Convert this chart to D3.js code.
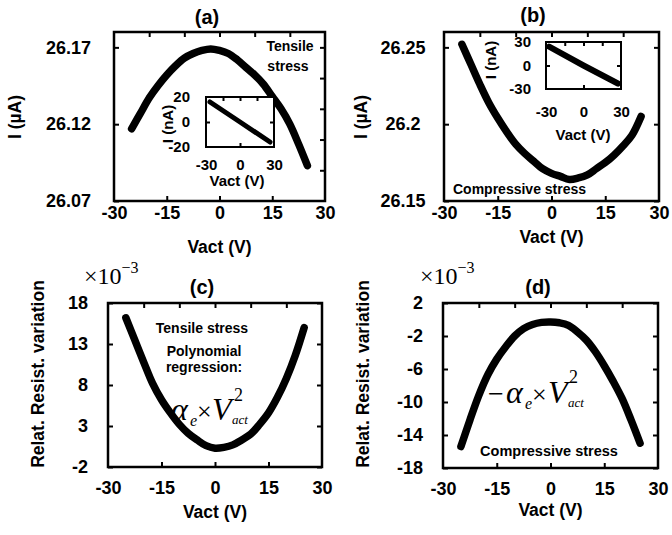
<!DOCTYPE html>
<html>
<head>
<meta charset="utf-8">
<script src="https://cdn.jsdelivr.net/npm/d3@7"></script>
<style>
  html, body { margin: 0; padding: 0; background: #fff; }
  svg { display: block; }
  .sans { font-family: "Liberation Sans", Arial, sans-serif; font-weight: bold; }
  .serif { font-family: "Liberation Serif", "Times New Roman", serif; }
</style>
</head>
<body>
<svg id="chart" width="672" height="535"></svg>
<script>
// ---------------- DATA ----------------
const vact = [-25, -22.5, -20, -17.5, -15, -12.5, -10, -7.5, -5, -2.5, 0, 2.5, 5, 7.5, 10, 12.5, 15, 17.5, 20, 22.5, 25];
// (a) current under tensile stress, µA
const currentTensile = [26.117, 26.127, 26.137, 26.145, 26.152, 26.158, 26.163, 26.166, 26.168, 26.169, 26.168, 26.166, 26.162, 26.157, 26.152, 26.146, 26.138, 26.130, 26.120, 26.107, 26.093];
// (b) current under compressive stress, µA
const currentCompressive = [26.252, 26.239, 26.226, 26.214, 26.204, 26.195, 26.187, 26.181, 26.176, 26.171, 26.168, 26.166, 26.164, 26.165, 26.167, 26.171, 26.175, 26.180, 26.186, 26.193, 26.205];
// (c) relative resistance variation, tensile (x1e-3)
const resistTensile = [16.2, 13.5, 10.8, 8.2, 6.2, 4.6, 3.2, 2.1, 1.3, 0.6, 0.3, 0.4, 0.7, 1.3, 2.0, 3.2, 4.6, 6.5, 8.8, 11.6, 15.0];
// (d) relative resistance variation, compressive (x1e-3)
const resistCompressive = [-15.4, -12.2, -9.2, -6.7, -4.8, -3.3, -2.0, -1.1, -0.6, -0.35, -0.3, -0.4, -0.7, -1.5, -2.5, -3.9, -5.6, -7.5, -9.6, -12.2, -15.0];
// insets: linear I(V) in nA
const insetAV = [-26.5, 0, 26.5];
const insetAI = [16, 0, -16];
const insetBV = [-27.5, 0, 27.5];
const insetBI = [24, 0, -23];

// tick labels
const xTicks = [-30, -15, 0, 15, 30];
const xMinor = [-15, 0, 15];
const xTopTicks = [-20, -10, 0, 10, 20];
const yTicksA = [26.07, 26.12, 26.17];
const yRightA = [26.09, 26.11, 26.13, 26.15, 26.17];
const yTicksB = [26.15, 26.2, 26.25];
const yTicksC = [-2, 3, 8, 13, 18];
const yTicksD = [-18, -14, -10, -6, -2, 2];
const insetXTicks = [-30, 0, 30];
const insetAYTicks = [-20, 0, 20];
const insetBYTicks = [-30, 0, 30];

// --------------- DRAW ---------------
const svg = d3.select("#chart");
const fmt = d => String(d);

function frame(g, x0, y0, x1, y1, sw) {
  g.append("rect").attr("x", x0).attr("y", y0).attr("width", x1 - x0).attr("height", y1 - y0)
    .attr("fill", "none").attr("stroke", "#000").attr("stroke-width", sw);
}

function cleanAxis(sel) {
  sel.select(".domain").remove();
  sel.selectAll(".tick line").attr("stroke", "#000").attr("stroke-width", 2);
}

function panel(cfg) {
  const g = svg.append("g");
  const x = d3.scaleLinear().domain([-30, 30]).range([cfg.x0, cfg.x1]);
  const y = d3.scaleLinear().domain(cfg.yDomain).range([cfg.y1, cfg.y0]);

  // curve
  const line = d3.line().x((d, i) => x(vact[i])).y(d => y(d)).curve(d3.curveCatmullRom);
  g.append("path").datum(cfg.values).attr("d", line)
    .attr("fill", "none").attr("stroke", "#000").attr("stroke-width", 7.5)
    .attr("stroke-linecap", "round").attr("stroke-linejoin", "round");

  // inner ticks
  g.append("g").attr("transform", `translate(0,${cfg.y1})`)
    .call(d3.axisBottom(x).tickValues(xMinor).tickSize(-5).tickFormat("")).call(cleanAxis);
  g.append("g").attr("transform", `translate(0,${cfg.y0})`)
    .call(d3.axisTop(x).tickValues(xTopTicks).tickSize(-5).tickFormat("")).call(cleanAxis);
  g.append("g").attr("transform", `translate(${cfg.x0},0)`)
    .call(d3.axisLeft(y).tickValues(cfg.yTicks).tickSize(-5).tickFormat("")).call(cleanAxis);
  g.append("g").attr("transform", `translate(${cfg.x1},0)`)
    .call(d3.axisRight(y).tickValues(cfg.yRight).tickSize(-5).tickFormat("")).call(cleanAxis);

  // labels
  const xl = g.append("g").attr("transform", `translate(0,${cfg.y1})`)
    .call(d3.axisBottom(x).tickValues(xTicks).tickSize(0).tickPadding(cfg.xPad).tickFormat(fmt));
  xl.select(".domain").remove();
  xl.selectAll("text").attr("class", "sans").attr("font-size", 18).attr("fill", "#000");

  const yl = g.append("g").attr("transform", `translate(${cfg.x0},0)`)
    .call(d3.axisLeft(y).tickValues(cfg.yTicks).tickSize(0).tickPadding(cfg.yPad).tickFormat(fmt));
  yl.select(".domain").remove();
  yl.selectAll("text").attr("class", "sans").attr("font-size", 18).attr("fill", "#000");
  if (cfg.yCenter) yl.selectAll("text").attr("text-anchor", "middle").attr("x", -cfg.yCenter);

  frame(g, cfg.x0, cfg.y0, cfg.x1, cfg.y1, 2.5);

  // titles
  g.append("text").attr("class", "sans").attr("font-size", 20).attr("text-anchor", "middle")
    .attr("x", cfg.tx).attr("y", cfg.ty).text(cfg.title);
  g.append("text").attr("class", "sans").attr("font-size", 17.5).attr("text-anchor", "middle")
    .attr("x", (cfg.x0 + cfg.x1) / 2).attr("y", cfg.xTitleY).text("Vact (V)");
  g.append("text").attr("class", "sans").attr("font-size", 17.5).attr("text-anchor", "middle")
    .attr("transform", `translate(${cfg.yTitleX},${cfg.yTitleY}) rotate(-90)`).attr("dy", "0.35em")
    .text(cfg.yTitle);
  return {g, x, y};
}

function inset(cfg) {
  const g = svg.append("g");
  const x = d3.scaleLinear().domain([-30, 30]).range([cfg.x0, cfg.x1]);
  const y = d3.scaleLinear().domain(cfg.yDomain).range([cfg.y1, cfg.y0]);
  g.append("rect").attr("x", cfg.x0).attr("y", cfg.y0).attr("width", cfg.x1 - cfg.x0)
    .attr("height", cfg.y1 - cfg.y0).attr("fill", "#fff");
  const line = d3.line().x((d, i) => x(cfg.v[i])).y(d => y(d));
  g.append("path").datum(cfg.i).attr("d", line).attr("fill", "none").attr("stroke", "#000")
    .attr("stroke-width", cfg.lw).attr("stroke-linecap", "round");
  g.append("g").attr("transform", `translate(0,${cfg.y1})`)
    .call(d3.axisBottom(x).tickValues([0]).tickSize(-4).tickFormat("")).call(cleanAxis);
  g.append("g").attr("transform", `translate(0,${cfg.y0})`)
    .call(d3.axisTop(x).tickValues([-15, 0, 15]).tickSize(-4).tickFormat("")).call(cleanAxis);
  g.append("g").attr("transform", `translate(${cfg.x0},0)`)
    .call(d3.axisLeft(y).tickValues([0]).tickSize(-4).tickFormat("")).call(cleanAxis);
  g.append("g").attr("transform", `translate(${cfg.x1},0)`)
    .call(d3.axisRight(y).tickValues([0]).tickSize(-4).tickFormat("")).call(cleanAxis);
  frame(g, cfg.x0, cfg.y0, cfg.x1, cfg.y1, 2);

  const xl = g.append("g").attr("transform", `translate(0,${cfg.y1})`)
    .call(d3.axisBottom(x).tickValues(insetXTicks).tickSize(0).tickPadding(cfg.xPad).tickFormat(fmt));
  xl.select(".domain").remove();
  xl.selectAll("text").attr("class", "sans").attr("font-size", cfg.fs).attr("fill", "#000");
  const yl = g.append("g").attr("transform", `translate(${cfg.x0},0)`)
    .call(d3.axisLeft(y).tickValues(cfg.yTicks).tickSize(0).tickPadding(cfg.yPad).tickFormat(fmt));
  yl.select(".domain").remove();
  yl.selectAll("text").attr("class", "sans").attr("font-size", cfg.fs).attr("fill", "#000");

  g.append("text").attr("class", "sans").attr("font-size", cfg.fs).attr("text-anchor", "middle")
    .attr("x", cfg.xtX).attr("y", cfg.xtY).text("Vact (V)");
  g.append("text").attr("class", "sans").attr("font-size", cfg.fs).attr("text-anchor", "middle")
    .attr("transform", `translate(${cfg.ytX},${cfg.ytY}) rotate(-90)`).attr("dy", "0.35em")
    .text("I (nA)");
}

function sansText(x, y, s, size, anchor) {
  svg.append("text").attr("class", "sans").attr("font-size", size)
    .attr("text-anchor", anchor || "middle").attr("x", x).attr("y", y).text(s);
}
function serifText(x, y, s, size, italic) {
  svg.append("text").attr("class", "serif").attr("font-size", size)
    .attr("font-style", italic ? "italic" : "normal").attr("x", x).attr("y", y).text(s);
}
function scaleLabel(x, y) {
  const t = svg.append("text").attr("class", "serif").attr("x", x).attr("y", y);
  t.append("tspan").attr("font-size", 24).text("×10");
  t.append("tspan").attr("font-size", 16).attr("dy", -11).text("−3");
}

// Panel (a)
panel({x0: 114, x1: 325, y0: 32, y1: 201, yDomain: [26.07, 26.18], values: currentTensile,
  yTicks: yTicksA, yRight: yRightA, xPad: 5, yPad: 23, title: "(a)", tx: 207, ty: 24,
  xTitleY: 253, yTitle: "I (µA)", yTitleX: 15, yTitleY: 117});
inset({x0: 206, x1: 274, y0: 97, y1: 147, yDomain: [-20, 20], v: insetAV, i: insetAI, lw: 5,
  yTicks: insetAYTicks, xPad: 12, yPad: 16, fs: 15, xtX: 237, xtY: 186, ytX: 168, ytY: 124});
sansText(290, 51, "Tensile", 14);
sansText(288, 71, "stress", 14);

// Panel (b)
panel({x0: 444, x1: 659, y0: 32, y1: 201, yDomain: [26.15, 26.26], values: currentCompressive,
  yTicks: yTicksB, yRight: yTicksB, xPad: 5, yPad: 18, yCenter: 41, title: "(b)", tx: 533, ty: 22,
  xTitleY: 243, yTitle: "I (µA)", yTitleX: 361, yTitleY: 117});
inset({x0: 546, x1: 621, y0: 42, y1: 89, yDomain: [-30, 30], v: insetBV, i: insetBI, lw: 6,
  yTicks: insetBYTicks, xPad: 17, yPad: 15, fs: 15, xtX: 583, xtY: 140, ytX: 491, ytY: 60});
sansText(453, 194, "Compressive stress", 14, "start");

// Panel (c)
panel({x0: 108, x1: 322, y0: 303, y1: 467, yDomain: [-2, 18], values: resistTensile,
  yTicks: yTicksC, yRight: yTicksC, xPad: 14, yPad: 20, title: "(c)", tx: 202, ty: 294,
  xTitleY: 518, yTitle: "Relat. Resist. variation", yTitleX: 38, yTitleY: 374});
scaleLabel(84, 284);
sansText(202, 333, "Tensile stress", 14);
sansText(204, 356, "Polynomial", 14);
sansText(204, 372, "regression:", 14);
serifText(171, 420, "α", 32, true);
serifText(190, 426, "e", 16, true);
serifText(197, 420, "×", 26, false);
serifText(212, 420, "V", 32, true);
serifText(234, 401, "2", 18, false);
serifText(232, 424, "act", 13, true);

// Panel (d)
panel({x0: 443, x1: 658, y0: 303, y1: 468, yDomain: [-18, 2], values: resistCompressive,
  yTicks: yTicksD, yRight: yTicksD, xPad: 14, yPad: 20, title: "(d)", tx: 538, ty: 294,
  xTitleY: 516, yTitle: "Relat. Resist. variation", yTitleX: 363, yTitleY: 374});
scaleLabel(420, 284);
serifText(488, 403, "−", 28, false);
serifText(506, 403, "α", 32, true);
serifText(525, 409, "e", 16, true);
serifText(532, 403, "×", 26, false);
serifText(548, 403, "V", 32, true);
serifText(569, 383, "2", 18, false);
serifText(568, 407, "act", 13, true);
sansText(549, 456, "Compressive stress", 14.5);
</script>
</body>
</html>
